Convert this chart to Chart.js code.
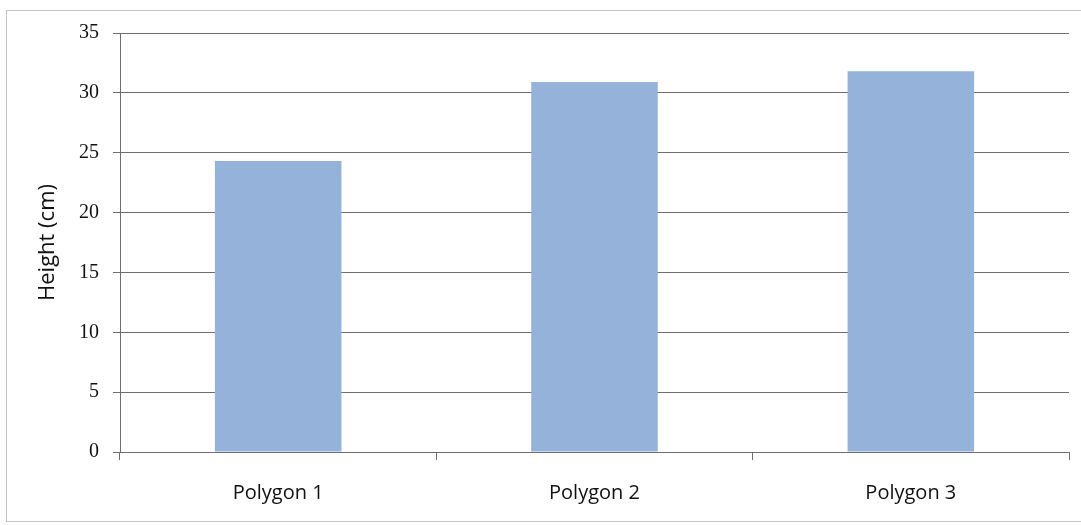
<!DOCTYPE html>
<html>
<head>
<meta charset="utf-8">
<script src="https://cdn.jsdelivr.net/npm/chart.js@4"></script>
<style>
  html, body { margin: 0; padding: 0; background: #ffffff; }
  #wrap { width: 1081px; height: 525px; position: relative; }
</style>
</head>
<body>
<div id="wrap"><canvas id="c"></canvas></div>
<script>
// Measured heights per polygon
const categories = ['Polygon 1', 'Polygon 2', 'Polygon 3'];
const heights = [24.3, 30.9, 31.8];
const yTicks = [0, 5, 10, 15, 20, 25, 30, 35];
const yTitle = 'Height (cm)';

const axisColor = '#6e6e6e';
const textColor = '#111111';

// Light frame around the whole chart
const framePlugin = {
  id: 'frame',
  beforeDraw(chart) {
    const ctx = chart.ctx;
    ctx.save();
    ctx.strokeStyle = '#c4c4c4';
    ctx.lineWidth = 1;
    ctx.strokeRect(6.5, 10.5, 1090, 511);
    ctx.restore();
  }
};

new Chart(document.getElementById('c'), {
  type: 'bar',
  data: {
    labels: categories,
    datasets: [{
      data: heights,
      backgroundColor: '#94b2da',
      borderWidth: 0,
      barPercentage: 0.4,
      categoryPercentage: 1.0
    }]
  },
  options: {
    responsive: true,
    maintainAspectRatio: false,
    animation: false,
    layout: { padding: { left: 0, top: 33, right: 12, bottom: 0 } },
    plugins: {
      legend: { display: false },
      tooltip: { enabled: false }
    },
    scales: {
      x: {
        offset: true,
        grid: {
          offset: true,
          drawOnChartArea: false,
          drawTicks: true,
          tickLength: 8,
          color: axisColor,
          lineWidth: 1
        },
        border: { display: true, color: axisColor, width: 1 },
        ticks: {
          padding: 21,
          color: textColor,
          font: { family: '"Open Sans", sans-serif', size: 20 }
        },
        afterFit(s) { s.height = 73; }
      },
      y: {
        min: 0,
        max: 35,
        afterBuildTicks(s) { s.ticks = yTicks.map(v => ({ value: v })); },
        grid: {
          color: axisColor,
          lineWidth: 1,
          drawTicks: true,
          tickLength: 7
        },
        border: { display: true, color: axisColor, width: 1 },
        ticks: {
          padding: 14,
          color: textColor,
          font: { family: '"Liberation Serif", serif', size: 20 }
        },
        title: {
          display: true,
          text: yTitle,
          color: textColor,
          padding: { top: 35, bottom: 0 },
          font: { family: '"Open Sans", sans-serif', size: 22 }
        },
        afterFit(s) { s.width = 120; }
      }
    }
  },
  plugins: [framePlugin]
});
</script>
</body>
</html>
